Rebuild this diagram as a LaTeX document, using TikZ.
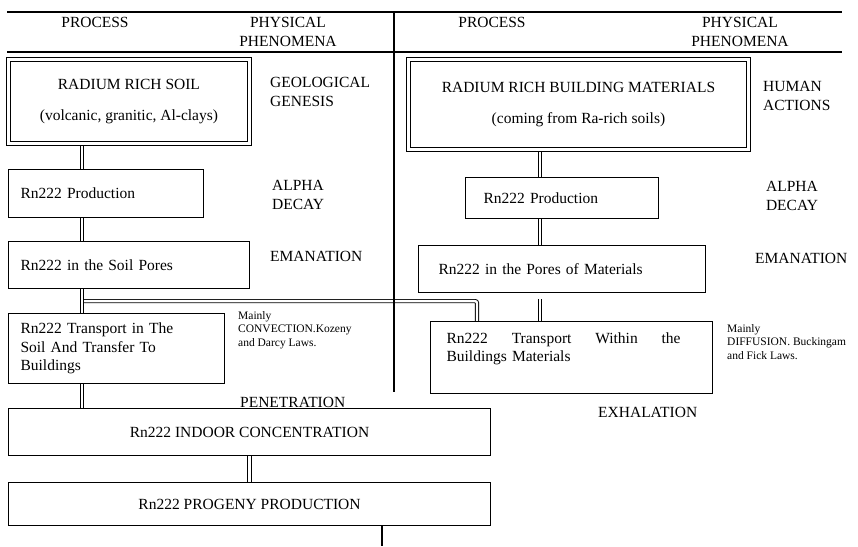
\documentclass[tikz,border=0pt]{standalone}
\usepackage{fontspec}
\setmainfont{Liberation Serif}
\usetikzlibrary{positioning,calc,backgrounds}

\tikzset{
  txt/.style={inner sep=0pt, font=\fontsize{15.5}{18.5}\selectfont},
  phen/.style={txt, align=left, anchor=west},
  note/.style={inner sep=0pt, align=left, anchor=west, font=\fontsize{11.5}{13.5}\selectfont},
  procbox/.style={txt, draw, line width=1.1pt, fill=white, anchor=north west},
  lbox/.style={procbox, align=left, inner xsep=12pt},
  rabox/.style={procbox, align=center, double, double distance=2.6pt, line width=0.9pt},
  link/.style={draw, double, double distance=2.4pt, line width=0.9pt},
  rule/.style={line width=1.1pt}
}

\begin{document}
\begin{tikzpicture}[x=1pt,y=-1pt]
  \useasboundingbox (0,0) rectangle (858,546);

  % header
  \node[txt] (procL) at (95,22) {PROCESS};
  \node[txt, align=center] (physL) at (288,32) {PHYSICAL\\PHENOMENA};
  \node[txt] (procR) at (492,22) {PROCESS};
  \node[txt, align=center] (physR) at (740,32) {PHYSICAL\\PHENOMENA};

  % soil column
  \node[rabox, minimum width=241pt, minimum height=84pt] (rsoil) at (8,59)
    {RADIUM RICH SOIL\\[13pt](volcanic, granitic, Al-clays)};
  \node[phen] (geo) at (270,92) {GEOLOGICAL\\GENESIS};
  \node[lbox, minimum width=195pt, text width=171pt, minimum height=48pt] (sprod) at (8,169)
    {Rn222 Production};
  \node[phen] (alphaL) at (272,195) {ALPHA\\DECAY};
  \node[lbox, minimum width=241pt, text width=217pt, minimum height=47pt] (spores) at (8,241)
    {Rn222 in the Soil Pores};
  \node[phen] (emL) at (270,256) {EMANATION};
  \node[lbox, minimum width=216pt, text width=192pt, minimum height=70pt] (strans) at (8,313)
    {Rn222 Transport in The\\Soil And Transfer To\\Buildings};
  \node[note] (conv) at (238,330) {Mainly\\CONVECTION.Kozeny\\and Darcy Laws.};
  \node[phen] (pen) at (240,402) {PENETRATION};

  % materials column
  \node[rabox, minimum width=340pt, minimum height=90pt] (rmat) at (408,59)
    {RADIUM RICH BUILDING MATERIALS\\[13pt](coming from Ra-rich soils)};
  \node[phen] (human) at (763,96) {HUMAN\\ACTIONS};
  \node[lbox, inner xsep=18pt, minimum width=193pt, text width=157pt, minimum height=41pt] (bprod) at (465,177)
    {Rn222 Production};
  \node[txt, align=center] (alphaR) at (792,196) {ALPHA\\DECAY};
  \node[lbox, inner xsep=20pt, minimum width=287pt, text width=247pt, minimum height=47pt] (bpores) at (418,245)
    {Rn222 in the Pores of Materials};
  \node[phen] (emR) at (755,258) {EMANATION};
  \node[lbox, inner xsep=16pt, minimum width=282pt, text width=250pt, minimum height=72pt] (btrans) at (430,321)
    {\hbox to 234pt{Rn222\hfill Transport\hfill Within\hfill the}\\Buildings Materials\\[2pt]\mbox{}};
  \node[note] (diff) at (727,342) {Mainly\\DIFFUSION. Buckingam\\and Fick Laws.};
  \node[phen] (exh) at (598,412) {EXHALATION};

  % common part
  \node[procbox, minimum width=482pt, minimum height=47pt] (indoor) at (8,408)
    {Rn222 INDOOR CONCENTRATION};
  \node[procbox, minimum width=482pt, minimum height=43pt] (progeny) at (8,482)
    {Rn222 PROGENY PRODUCTION};

  \coordinate (ltrunk) at (82,0);
  \coordinate (rtrunk) at (540,0);
  \coordinate (fork) at ($(spores.south -| ltrunk)+(2.2,12)$);
  \coordinate (exit) at (382,546);

  \begin{scope}[on background layer]
    \fill[white] (0,0) rectangle (858,546);
    \draw[link, rounded corners=2pt] (fork) -| ([xshift=47pt]btrans.north west);
    \draw[link] (rsoil.south -| ltrunk) -- (sprod.north -| ltrunk);
    \draw[link] (sprod.south -| ltrunk) -- (spores.north -| ltrunk);
    \draw[link] (spores.south -| ltrunk) -- (strans.north -| ltrunk);
    \draw[link] (strans.south -| ltrunk) -- (indoor.north -| ltrunk);
    \draw[link] (rmat.south -| rtrunk) -- (bprod.north -| rtrunk);
    \draw[link] (bprod.south -| rtrunk) -- (bpores.north -| rtrunk);
    \draw[link, shorten <=6pt] (bpores.south -| rtrunk) -- (btrans.north -| rtrunk);
    \draw[link] (indoor.south) -- (progeny.north);
  \end{scope}
  \draw[rule] (progeny.south -| exit) -- (exit);

  % table rules
  \draw[rule] (7,12) -- (842,12);
  \draw[rule] (7,52) -- (842,52);
  \draw[rule] (394,12) -- (394,392);
\end{tikzpicture}
\end{document}
